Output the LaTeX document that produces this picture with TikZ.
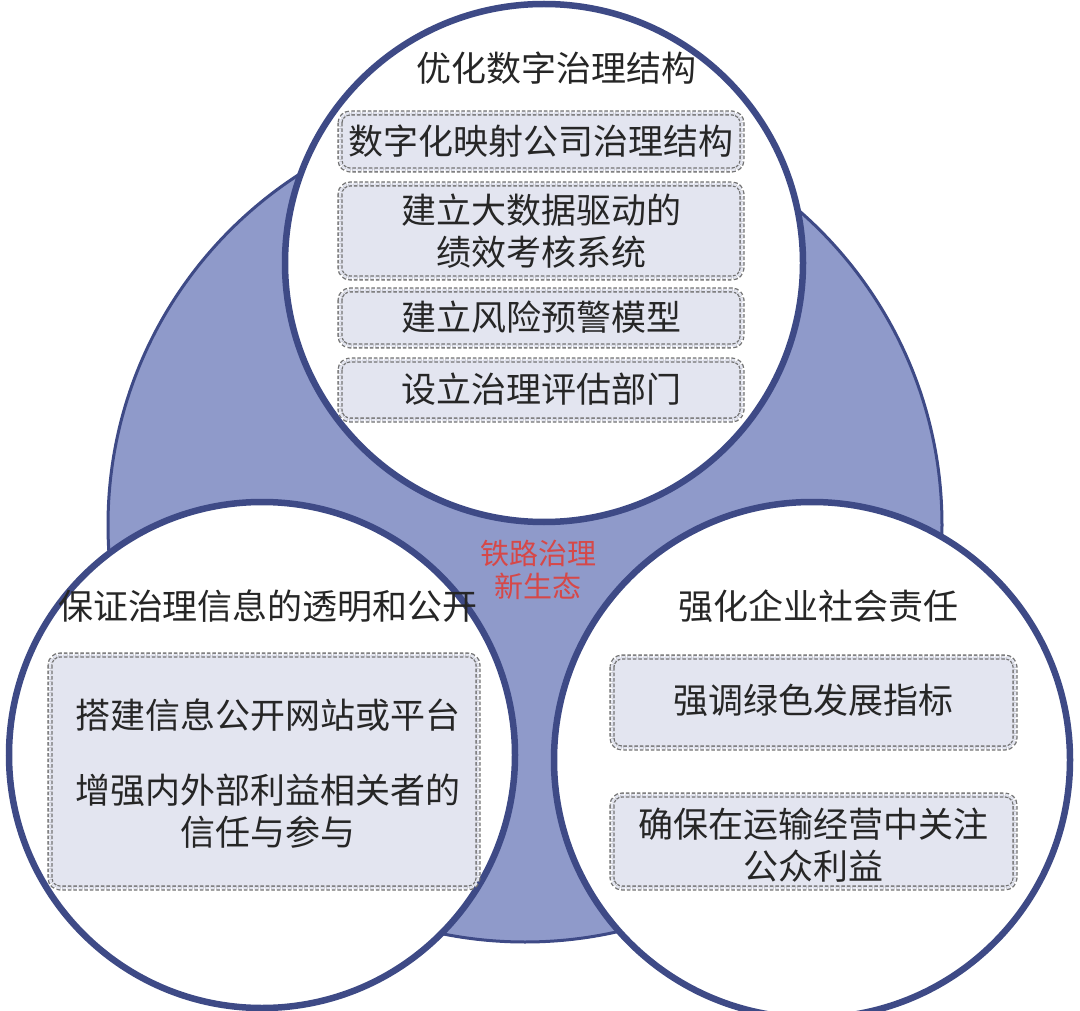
\documentclass[tikz,border=0pt]{standalone}
\usepackage{fontspec}
\setmainfont{Noto Sans CJK SC}
\begin{document}
\begin{tikzpicture}[x=1pt,y=-1pt,
  circ/.style={fill=white,draw=navy,line width=6.5pt},
  bx/.style={rounded corners=10pt,fill=boxfill,draw=black!55,double=boxfill,double distance=2.5pt,line width=1.3pt,dash pattern=on 3.5pt off 2pt},
  txt/.style={font=\fontsize{35}{42}\selectfont,text=black!85,align=center}]
\definecolor{navy}{HTML}{3E4A86}
\definecolor{bigblue}{HTML}{8F9ACA}
\definecolor{boxfill}{HTML}{E3E5F0}
\useasboundingbox (0,0) rectangle (1080,1011);
\fill[white] (0,0) rectangle (1080,1011);
\fill[bigblue,draw=navy,line width=3pt] (525,525) circle (417);
\path[circ] (544,263) circle (259);
\path[circ] (262,755) circle (253);
\path[circ] (812,760) circle (258);
% top
\node[txt] (t0) at (556,68) {优化数字治理结构};
\draw[bx] (340,113) rectangle (742,170);
\node[txt] (t1) at (541,141) {数字化映射公司治理结构};
\draw[bx] (340,184) rectangle (742,278);
\node[txt] (t2) at (541,231) {建立大数据驱动的\\绩效考核系统};
\draw[bx] (340,290) rectangle (742,346);
\node[txt] (t3) at (541,317) {建立风险预警模型};
\draw[bx] (340,360) rectangle (742,420);
\node[txt] (t4) at (541,389) {设立治理评估部门};
% left
\node[txt] (l0) at (268,606) {保证治理信息的透明和公开};
\draw[bx] (50,655) rectangle (478,888);
\node[txt] (l1) at (268,715) {搭建信息公开网站或平台};
\node[txt] (l2) at (268,811) {增强内外部利益相关者的\\信任与参与};
% right
\node[txt] (r0) at (818,606) {强化企业社会责任};
\draw[bx] (612,657) rectangle (1015,748);
\node[txt] (r1) at (813,700) {强调绿色发展指标};
\draw[bx] (612,795) rectangle (1015,888);
\node[txt] (r2) at (813,845) {确保在运输经营中关注\\公众利益};
% center
\node[font=\fontsize{29}{33}\selectfont,text={rgb,255:red,214;green,72;blue,72},align=center] (c) at (538,570) {铁路治理\\新生态};
\end{tikzpicture}
\end{document}
